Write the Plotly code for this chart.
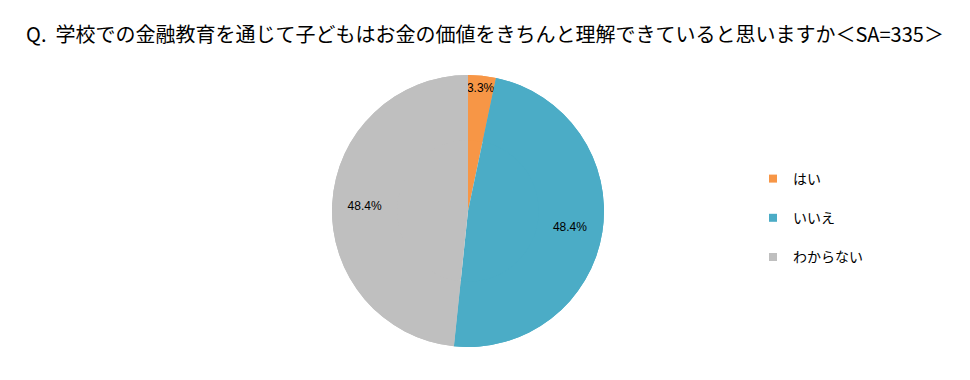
import plotly.graph_objects as go

labels = ["はい", "いいえ", "わからない"]
values = [3.3, 48.4, 48.4]
text_labels = ["3.3%", "48.4%", "48.4%"]
colors = ["#F79646", "#4BACC6", "#BFBFBF"]
title = "Q.  学校での金融教育を通じて子どもはお金の価値をきちんと理解できていると思いますか＜SA=335＞"

W, H = 970, 380
cx, cy, r = 468, 211, 136
dom = dict(x=[(cx - r) / W, (cx + r) / W], y=[(H - cy - r) / H, (H - cy + r) / H])

fig = go.Figure()
# full pie (fills the centre)
fig.add_trace(go.Pie(
    labels=labels, values=values, textinfo="none",
    marker=dict(colors=colors, line=dict(width=0)),
    sort=False, direction="clockwise", rotation=0,
    showlegend=False, hoverinfo="skip", domain=dom,
))
# ring on top carrying the labels further out
fig.add_trace(go.Pie(
    labels=labels, values=values, text=text_labels, hole=0.52,
    textinfo="text", textposition="inside", insidetextorientation="horizontal",
    textfont=dict(size=12, color="black", family="Liberation Sans, Arial"),
    marker=dict(colors=colors, line=dict(width=0)),
    sort=False, direction="clockwise", rotation=0,
    showlegend=False, hoverinfo="label+percent", domain=dom,
))
for lab, col in zip(labels, colors):
    fig.add_trace(go.Scatter(
        x=[None], y=[None], mode="markers", name=lab, legendgroup=lab,
        marker=dict(symbol="square", size=8, color=col),
    ))

fig.update_layout(
    width=W, height=H,
    margin=dict(l=0, r=0, t=0, b=0),
    paper_bgcolor="white", plot_bgcolor="white",
    xaxis=dict(visible=False), yaxis=dict(visible=False),
    uniformtext=dict(minsize=12, mode="show"),
    title=dict(text=title, x=0.5, xanchor="center", y=1 - 35 / H, yanchor="middle",
               font=dict(size=20, color="black", family="Noto Sans CJK JP")),
    legend=dict(x=753 / W, y=1 - 163 / H, xanchor="left", yanchor="top",
                font=dict(size=14, color="black", family="Noto Sans CJK JP"),
                tracegroupgap=18, itemwidth=30, bgcolor="rgba(0,0,0,0)"),
)
fig.write_html("out.html")
